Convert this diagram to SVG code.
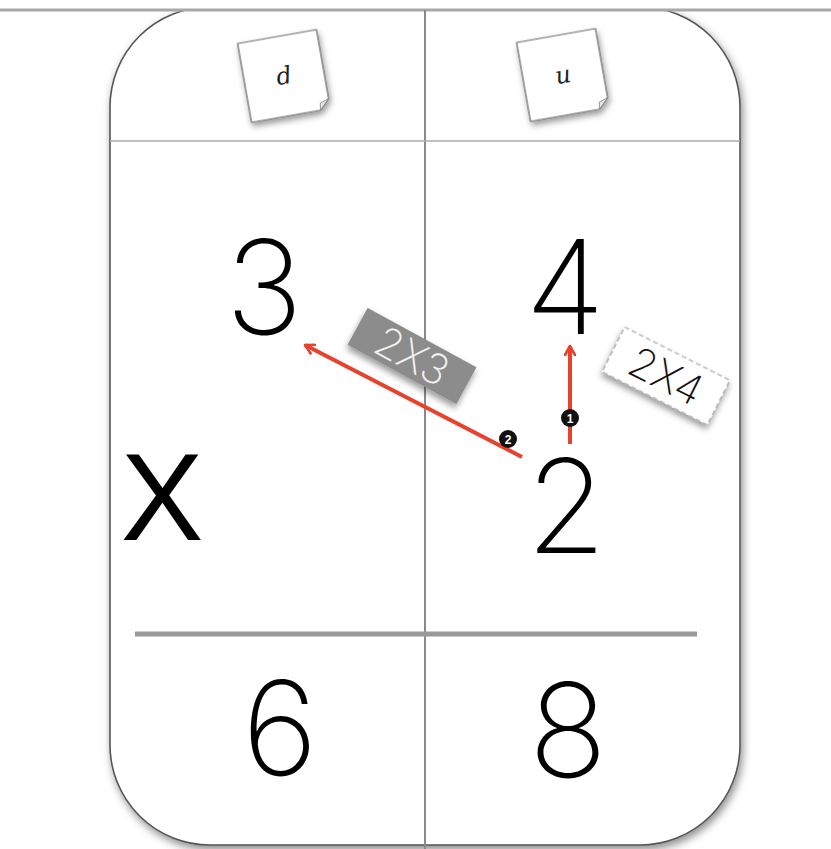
<svg xmlns="http://www.w3.org/2000/svg" width="831" height="849" viewBox="0 0 831 849">
  <defs>
    <filter id="shadow" x="-10%" y="-10%" width="120%" height="120%">
      <feDropShadow dx="2" dy="4" stdDeviation="4" flood-color="#000" flood-opacity="0.45"/>
    </filter>
    <filter id="noteShadow" x="-30%" y="-30%" width="160%" height="160%">
      <feDropShadow dx="1" dy="4" stdDeviation="3" flood-color="#000" flood-opacity="0.4"/>
    </filter>
    <clipPath id="below">
      <rect x="0" y="10" width="831" height="839"/>
    </clipPath>
    <marker id="chev" viewBox="0 0 12 12" refX="10" refY="6" markerWidth="12" markerHeight="12" markerUnits="userSpaceOnUse" orient="auto">
      <path d="M1,1 L10,6 L1,11" fill="none" stroke="#e8412c" stroke-width="2.6" stroke-linecap="round" stroke-linejoin="round"/>
    </marker>
    <style>
      .digit { font-family: Inter, "Liberation Sans", sans-serif; font-weight: 200; font-size: 130px; fill: #000; text-anchor: middle; }
      .note { fill: #fff; stroke: #666; stroke-width: 1.2; }
      .noteTxt { font-family: "DejaVu Serif", serif; font-style: italic; font-size: 24px; fill: #222; text-anchor: middle; }
      .arrow { stroke: #e8412c; stroke-width: 4; fill: none; marker-end: url(#chev); }
      .badge { fill: #111; }
      .badgeTxt { font-family: "Liberation Sans", sans-serif; font-weight: bold; font-size: 12px; fill: #fff; text-anchor: middle; }
      .lbl { font-family: Inter, "Liberation Sans", sans-serif; font-weight: 200; font-size: 42px; text-anchor: middle; }
    </style>
  </defs>
  <rect width="831" height="849" fill="#fff"/>

  <g id="board" clip-path="url(#below)">
    <rect x="110" y="7" width="630" height="838" rx="100" ry="100" fill="#fff" stroke="#555" stroke-width="1.6" filter="url(#shadow)"/>
  </g>

  <g id="grid">
    <line x1="0" y1="10" x2="831" y2="10" stroke="#a8a8a8" stroke-width="3"/>
    <line x1="425" y1="10" x2="425" y2="849" stroke="#8a8a8a" stroke-width="2"/>
    <line x1="110" y1="141" x2="740" y2="141" stroke="#aaa" stroke-width="1.5"/>
    <line x1="135" y1="634" x2="697" y2="634" stroke="#999" stroke-width="5"/>
  </g>

  <g id="note-d" transform="translate(284,76) rotate(-10)">
    <path class="note" d="M-40,-40 L40,-40 L40,30 L30,40 L-40,40 Z" filter="url(#noteShadow)"/>
    <path d="M40,30 L31,33 L30,40 Z" fill="#e6e6e6" stroke="#888" stroke-width="0.8"/>
    <text class="noteTxt" x="0" y="8">d</text>
  </g>

  <g id="note-u" transform="translate(563,75) rotate(-10)">
    <path class="note" d="M-40,-40 L40,-40 L40,30 L30,40 L-40,40 Z" filter="url(#noteShadow)"/>
    <path d="M40,30 L31,33 L30,40 Z" fill="#e6e6e6" stroke="#888" stroke-width="0.8"/>
    <text class="noteTxt" x="0" y="8">u</text>
  </g>

  <g id="digit-3"><text class="digit" x="264" y="334">3</text></g>
  <g id="digit-4"><text class="digit" x="565" y="334">4</text></g>
  <g id="digit-2"><text class="digit" x="566" y="553">2</text></g>
  <g id="times"><text x="162" y="540" font-family="'Liberation Sans', Arial, sans-serif" font-size="124" text-anchor="middle" fill="#000">X</text></g>
  <g id="digit-6"><text class="digit" x="280" y="775">6</text></g>
  <g id="digit-8"><text class="digit" x="568" y="777">8</text></g>

  <g id="label-2x3" transform="translate(412,356) rotate(28.6)">
    <rect x="-62" y="-21" width="124" height="42" fill="#8c8c8c" filter="url(#noteShadow)"/>
    <text class="lbl" x="0" y="15" fill="#f2f2f2">2X3</text>
  </g>

  <g id="label-2x4" transform="translate(666,376) rotate(26.8)">
    <rect x="-59" y="-25" width="118" height="50" fill="#fff" stroke="#999" stroke-width="1.2" stroke-dasharray="5,3" filter="url(#noteShadow)"/>
    <text class="lbl" x="0" y="15" fill="#111">2X4</text>
  </g>

  <g id="connectors">
    <line class="arrow" x1="570" y1="444" x2="570" y2="346"/>
    <line class="arrow" x1="522" y1="457" x2="305" y2="345"/>
  </g>

  <g id="badge-1">
    <circle class="badge" cx="570" cy="418" r="9"/>
    <text class="badgeTxt" x="570" y="422.5">1</text>
  </g>
  <g id="badge-2">
    <circle class="badge" cx="508" cy="439" r="9"/>
    <text class="badgeTxt" x="508" y="443.5">2</text>
  </g>
</svg>
